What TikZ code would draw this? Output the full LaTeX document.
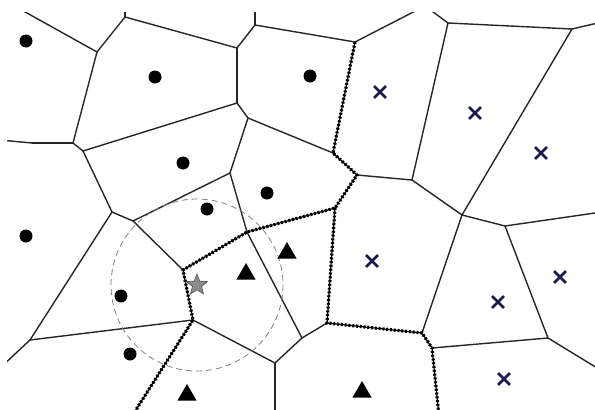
\documentclass[tikz,border=0pt]{standalone}
\usepackage{tikz}
\usetikzlibrary{shapes.geometric,shapes.misc}
\definecolor{crossblue}{RGB}{25,25,80}
\tikzset{
  cell/.style={line width=1.4pt,black!85,line cap=round},
  border/.style={line width=3.2pt,dash pattern=on 2pt off 1.8pt,postaction={draw,line width=1.2pt,solid}},
  pdot/.style={circle,fill=black,inner sep=0pt,minimum size=13pt},
  ptri/.style={regular polygon,regular polygon sides=3,fill=black,inner sep=0pt,minimum size=22pt},
  pcross/.style={cross out,draw=crossblue,line width=2.8pt,inner sep=0pt,minimum size=9pt},
  pstar/.style={star,star points=5,star point ratio=2.3,fill=black!45,draw=black!70,line width=.6pt,inner sep=0pt,minimum size=22pt}
}
\begin{document}
\begin{tikzpicture}[x=1pt,y=-1pt]
\useasboundingbox (0,0) rectangle (595,410);
\clip (7,12) rectangle (595,410);
% vertices of the cells
\foreach \n/\p in {a0/{18,8},a/{97,52},b/{125,17},b0/{125,0},c/{237,48},c1/{255,25},c0/{255,0},
  d/{237,103},e/{73,143},e1/{32,143},e0/{0,140},f/{83,151},g/{248,118},h/{230,173},
  i/{355,42},k/{425,6},j/{448,23},l/{572,29},l0/{602,22},m/{412,180},n/{333,153},o/{357,175},
  p/{112,212},q/{133,221},r/{183,270},s/{247,232},t/{335,208},u/{193,320},u0/{132,416},
  v/{275,363},v0/{275,416},w/{302,338},x/{327,323},y/{422,333},z/{432,348},z0/{439,416},
  aa/{462,215},bb/{505,226},bb0/{602,212},cc/{548,338},cc0/{602,371},dd/{30,340},dd0/{0,368}}
  \coordinate (\n) at (\p);
% ordinary cell edges
\foreach \u/\v in {a0/a,a/b,b/b0,b/c,c/c1,c1/c0,c1/i,c/d,a/e,e/e1,e1/e0,e/f,f/d,d/g,g/n,g/h,
  h/q,q/p,p/f,p/dd,dd/dd0,dd/u,q/r,h/s,u/v,v/v0,s/w,w/v,w/x,o/m,m/j,i/k,k/j,j/l,l/l0,
  m/aa,l/aa,aa/y,aa/bb,bb/bb0,bb/cc,cc/z,cc/cc0}
  \draw[cell] (\u)--(\v);
% class boundaries
\draw[border] (i)--(n)--(o)--(t)--(s)--(r)--(u)--(u0);
\draw[border] (t)--(x)--(y)--(z)--(z0);
% query point and its neighbourhood
\node[pstar] (query) at (197,285) {};
\draw[gray,line width=.8pt,dash pattern=on 6pt off 4pt] (query) circle[radius=86];
% sites
\foreach \p [count=\i] in {{26,41},{155,77},{310,76},{183,163},{267,193},{207,209},{26,236},{121,296},{130,354}}
  \node[pdot] (dot\i) at (\p) {};
\foreach \p [count=\i] in {{246,274},{287,253},{187,395},{362,392}}
  \node[ptri] (tri\i) at (\p) {};
\foreach \p [count=\i] in {{380,92},{475,113},{541,153},{372,261},{560,277},{498,302},{504,379}}
  \node[pcross] (cross\i) at (\p) {};
\end{tikzpicture}
\end{document}
